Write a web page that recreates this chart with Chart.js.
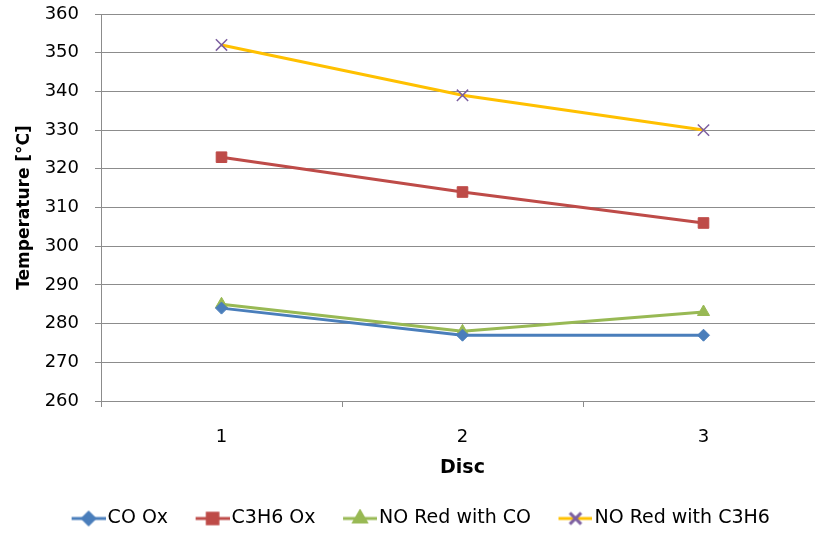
<!DOCTYPE html>
<html>
<head>
<meta charset="utf-8">
<script src="https://cdn.jsdelivr.net/npm/chart.js@4.4.1/dist/chart.umd.min.js"></script>
<style>
  html, body { margin: 0; padding: 0; background: #fff; }
  #wrap { width: 815px; height: 534px; overflow: hidden; }
</style>
</head>
<body>
<div id="wrap"><canvas id="lineChart" width="840" height="534"></canvas></div>
<script>
const discs = ['1', '2', '3'];
const coOx = [284, 277, 277];
const c3h6Ox = [323, 314, 306];
const noRedCo = [285, 278, 283];
const noRedC3h6 = [352, 339, 330];
const tempTicks = [260, 270, 280, 290, 300, 310, 320, 330, 340, 350, 360];

const FONT = 'DejaVu Sans';
const GRID = '#8c8c8c';
const SW_BOX = 44;   // legend box width given to chart.js
const SW_IMG = 59;   // swatch image width (line sits at its right end)

// line + marker swatch for the legend
function swatch(line, mark, style, r) {
  const c = document.createElement('canvas');
  c.width = SW_IMG; c.height = 20;
  const ctx = c.getContext('2d');
  const x1 = SW_IMG - 34, cx = SW_IMG - 17;
  ctx.strokeStyle = line;
  ctx.lineWidth = 3;
  ctx.beginPath();
  ctx.moveTo(x1, 10); ctx.lineTo(SW_IMG, 10);
  ctx.stroke();
  ctx.fillStyle = mark;
  ctx.strokeStyle = mark;
  Chart.helpers.drawPoint(ctx, {
    pointStyle: style, radius: r, borderWidth: style === 'crossRot' ? 1.5 : 1, rotation: 0
  }, cx, 10);
  return c;
}

function series(label, data, line, mark, style, r) {
  return {
    label, data,
    borderColor: line,
    backgroundColor: mark,
    pointBorderColor: mark,
    pointBackgroundColor: mark,
    pointStyle: style,
    pointRadius: r,
    pointHoverRadius: r,
    pointBorderWidth: style === 'crossRot' ? 1.5 : 1,
    borderWidth: 3,
    tension: 0,
    swatch: swatch(line, mark, style, r)
  };
}

const datasets = [
  series('CO Ox', coOx, '#4a7ebb', '#4a7ebb', 'rectRot', 6),
  series('C3H6 Ox', c3h6Ox, '#be4b48', '#be4b48', 'rect', 7.5),
  series('NO Red with CO', noRedCo, '#98b954', '#98b954', 'triangle', 7),
  series('NO Red with C3H6', noRedC3h6, '#ffc000', '#7d60a0', 'crossRot', 8)
];

new Chart(document.getElementById('lineChart'), {
  type: 'line',
  data: { labels: discs, datasets },
  options: {
    responsive: false,
    animation: false,
    layout: { padding: { left: 0, right: 16, top: 14, bottom: -4 } },
    plugins: {
      tooltip: { enabled: false },
      legend: {
        position: 'bottom',
        labels: {
          usePointStyle: true,
          pointStyleWidth: SW_BOX,
          padding: 10,
          color: '#000',
          font: { family: FONT, size: 19 },
          generateLabels(chart) {
            return chart.data.datasets.map((d, i) => ({
              text: d.label,
              pointStyle: d.swatch,
              fillStyle: d.borderColor,
              strokeStyle: d.borderColor,
              lineWidth: 0,
              hidden: false,
              datasetIndex: i,
              fontColor: '#000'
            }));
          }
        }
      }
    },
    scales: {
      x: {
        offset: true,
        afterFit(scale) { scale.height = 98; },
        grid: { offset: true, drawOnChartArea: false, drawTicks: true, tickLength: 6, color: GRID },
        border: { color: GRID, width: 1 },
        ticks: { color: '#000', padding: 20, font: { family: FONT, size: 18 } },
        title: { display: true, text: 'Disc', color: '#000', padding: { top: 0, bottom: 20 }, font: { family: FONT, size: 19, weight: 'bold' } }
      },
      y: {
        min: 260, max: 360,
        afterBuildTicks(scale) { scale.ticks = tempTicks.map(v => ({ value: v })); },
        afterFit(scale) {
          scale.width = 101;
          // top label may stick out above the plot
          scale.paddingTop = 0;
          scale.paddingBottom = 0;
        },
        grid: { color: GRID, tickLength: 6 },
        border: { color: GRID, width: 1 },
        ticks: { color: '#000', padding: 16, font: { family: FONT, size: 18 } },
        title: { display: true, text: 'Temperature [°C]', color: '#000', padding: { top: 14, bottom: 0 }, font: { family: FONT, size: 17, weight: 'bold' } }
      }
    }
  }
});
</script>
</body>
</html>
